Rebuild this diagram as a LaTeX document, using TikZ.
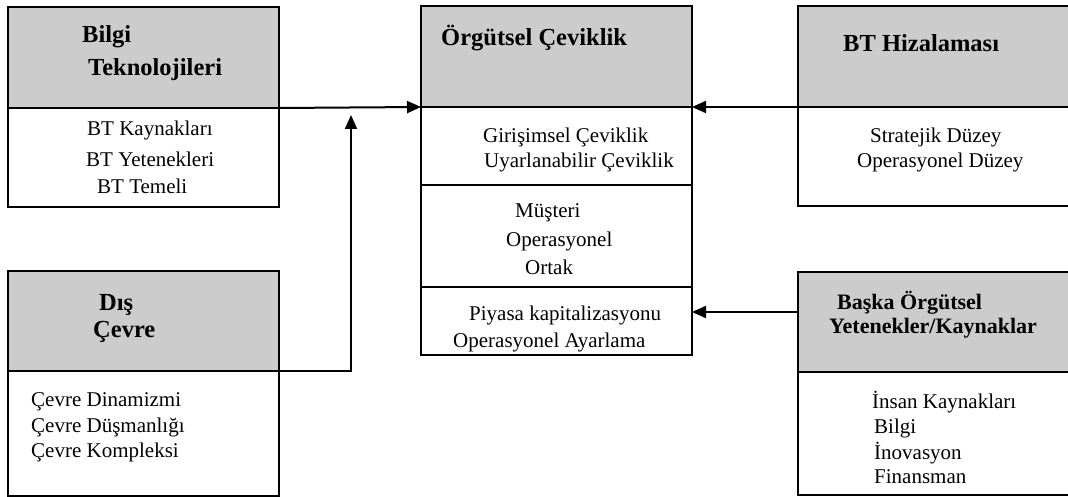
\documentclass[tikz,border=0pt]{standalone}
\usepackage{fontspec}
\setmainfont{Liberation Serif}
\usetikzlibrary{arrows.meta}
\begin{document}
\begin{tikzpicture}[x=1pt,y=-1pt,
  kutu/.style={draw,line width=1.1pt,outer sep=0pt,inner sep=0pt,minimum width=271pt,anchor=north west},
  baslik/.style={kutu,fill=black!20},
  bt/.style={font=\fontsize{24.5}{28}\selectfont\bfseries,anchor=west,inner sep=0pt},
  yz/.style={font=\fontsize{21}{25}\selectfont,anchor=west,inner sep=0pt},
  ok/.style={line width=2pt,-{Triangle[length=14pt,width=12pt]}}]
\useasboundingbox (0,0) rectangle (1068,497);
% Bilgi Teknolojileri
\node[baslik,minimum height=101pt] (btH) at (8,7) {};
\node[kutu,minimum height=99pt] (btG) at (8,108) {};
\node[bt] at (82,37) {Bilgi};
\node[bt] at (88,70) {Teknolojileri};
\node[yz] at (87,130) {BT Kaynakları};
\node[yz] at (86,159) {BT Yetenekleri};
\node[yz] at (97,186) {BT Temeli};
% Dis Cevre
\node[baslik,minimum height=100pt] (dcH) at (8,271) {};
\node[kutu,minimum height=125pt] (dcG) at (8,371) {};
\node[bt] at (99,305) {Dış};
\node[bt] at (93,332) {Çevre};
\node[yz] at (31,402) {Çevre Dinamizmi};
\node[yz] at (31,427) {Çevre Düşmanlığı};
\node[yz] at (31,452) {Çevre Kompleksi};
% Orgutsel Ceviklik
\node[baslik,minimum height=101pt] (ocH) at (421,6) {};
\node[kutu,minimum height=78pt] (oc1) at (421,107) {};
\node[kutu,minimum height=102pt] (oc2) at (421,185) {};
\node[kutu,minimum height=68pt] (oc3) at (421,287) {};
\node[bt] at (441,38) {Örgütsel Çeviklik};
\node[yz] at (483,137) {Girişimsel Çeviklik};
\node[yz] at (484,162) {Uyarlanabilir Çeviklik};
\node[yz] at (515,213) {Müşteri};
\node[yz] at (506,241) {Operasyonel};
\node[yz] at (525,267) {Ortak};
\node[yz] at (469,315) {Piyasa kapitalizasyonu};
\node[yz] at (453,342) {Operasyonel Ayarlama};
% BT Hizalamasi
\node[baslik,minimum width=276pt,minimum height=101pt] (bhH) at (798,6) {};
\node[kutu,minimum width=276pt,minimum height=99pt] (bhG) at (798,107) {};
\node[bt] at (843,43) {BT Hizalaması};
\node[yz] at (870,137) {Stratejik Düzey};
\node[yz] at (857,162) {Operasyonel Düzey};
% Baska Orgutsel Yetenekler/Kaynaklar
\node[baslik,minimum width=276pt,minimum height=100pt] (bkH) at (798,272) {};
\node[kutu,minimum width=276pt,minimum height=123pt] (bkG) at (798,372) {};
\node[bt,font=\fontsize{22}{26}\selectfont\bfseries] at (837,303) {Başka Örgütsel};
\node[bt,font=\fontsize{22}{26}\selectfont\bfseries] at (829,328) {Yetenekler/Kaynaklar};
\node[yz] at (872,402) {İnsan Kaynakları};
\node[yz] at (874,428) {Bilgi};
\node[yz] at (874,453) {İnovasyon};
\node[yz] at (874,477) {Finansman};
% oklar
\coordinate (birlesim) at (351,115);
\coordinate (bkCikis) at ([yshift=-40pt]bkH.north west);
\draw[ok] (btH.south east) -- (ocH.south west);
\draw[ok] (dcH.south east) -| (birlesim);
\draw[ok] (bhH.south west) -- (ocH.south east);
\draw[ok] (bkCikis) -- (bkCikis -| oc3.east);
\end{tikzpicture}
\end{document}
